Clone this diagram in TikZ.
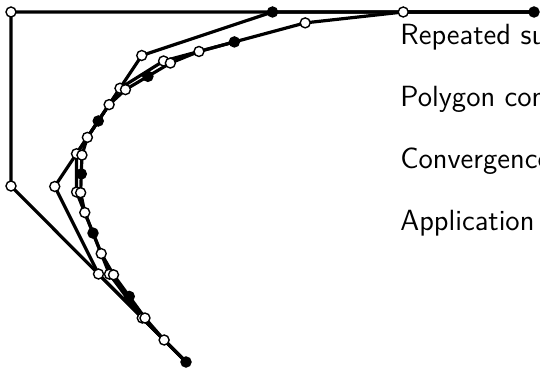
\documentclass[tikz,border=0pt]{standalone}
\usetikzlibrary{calc}
\begin{document}
\begin{tikzpicture}[x=0.5pt,y=-0.5pt,
  poly/.style={line width=1.6pt,line join=round,line cap=round},
  wdot/.style={circle,draw=black,fill=white,line width=0.7pt,inner sep=0pt,minimum size=5pt},
  bdot/.style={circle,draw=black,fill=black,line width=0.7pt,inner sep=0pt,minimum size=5pt},
  lbl/.style={anchor=base west,inner sep=0pt,font=\sffamily\fontsize{14.6}{17}\selectfont}]
\useasboundingbox (0,0) rectangle (540,368);
\clip (0,0) rectangle (540,368);
% control polygon
\coordinate (P0) at (186,362);
\coordinate (P1) at (11,186);
\coordinate (P2) at (11,12);
\coordinate (P3) at (534,12);
% level 1
\coordinate (a) at ($(P0)!.5!(P1)$);
\coordinate (b) at ($(P1)!.5!(P2)$);
\coordinate (c) at ($(P2)!.5!(P3)$);
\coordinate (ab) at ($(a)!.5!(b)$);
\coordinate (bc) at ($(b)!.5!(c)$);
\coordinate (M) at ($(ab)!.5!(bc)$);
% level 2 left
\coordinate (l01) at ($(P0)!.5!(a)$);
\coordinate (l12) at ($(a)!.5!(ab)$);
\coordinate (l23) at ($(ab)!.5!(M)$);
\coordinate (l012) at ($(l01)!.5!(l12)$);
\coordinate (l123) at ($(l12)!.5!(l23)$);
\coordinate (LM) at ($(l012)!.5!(l123)$);
% level 2 right
\coordinate (r01) at ($(M)!.5!(bc)$);
\coordinate (r12) at ($(bc)!.5!(c)$);
\coordinate (r23) at ($(c)!.5!(P3)$);
\coordinate (r012) at ($(r01)!.5!(r12)$);
\coordinate (r123) at ($(r12)!.5!(r23)$);
\coordinate (RM) at ($(r012)!.5!(r123)$);
% level 3, quarter 1
\coordinate (s01) at ($(P0)!.5!(l01)$);
\coordinate (s12) at ($(l01)!.5!(l012)$);
\coordinate (s23) at ($(l012)!.5!(LM)$);
\coordinate (s012) at ($(s01)!.5!(s12)$);
\coordinate (s123) at ($(s12)!.5!(s23)$);
\coordinate (S) at ($(s012)!.5!(s123)$);
% level 3, quarter 2
\coordinate (t01) at ($(LM)!.5!(l123)$);
\coordinate (t12) at ($(l123)!.5!(l23)$);
\coordinate (t23) at ($(l23)!.5!(M)$);
\coordinate (t012) at ($(t01)!.5!(t12)$);
\coordinate (t123) at ($(t12)!.5!(t23)$);
\coordinate (T) at ($(t012)!.5!(t123)$);
% level 3, quarter 3
\coordinate (u01) at ($(M)!.5!(r01)$);
\coordinate (u12) at ($(r01)!.5!(r012)$);
\coordinate (u23) at ($(r012)!.5!(RM)$);
\coordinate (u012) at ($(u01)!.5!(u12)$);
\coordinate (u123) at ($(u12)!.5!(u23)$);
\coordinate (U) at ($(u012)!.5!(u123)$);
% polygons
\draw[poly] (P0) -- (P1) -- (P2) -- (P3);
\draw[poly] (P0) -- (a) -- (ab) -- (M) -- (bc) -- (c) -- (P3);
\draw[poly] (P0) -- (l01) -- (l012) -- (LM) -- (l123) -- (l23) -- (M)
  -- (r01) -- (r012) -- (RM) -- (r123) -- (r23) -- (P3);
\draw[poly] (P0) -- (s01) -- (s012) -- (S) -- (s123) -- (s23) -- (LM)
  -- (t01) -- (t012) -- (T) -- (t123) -- (t23) -- (M)
  -- (u01) -- (u012) -- (U) -- (u123) -- (u23) -- (RM);
% white dots
\foreach \p in {P1,P2,a,ab,bc,l01,l012,l123,l23,r01,r012,r123,r23,
  s01,s012,s123,s23,t01,t012,t123,t23,u01,u012,u123,u23}
  \node[wdot] (w-\p) at (\p) {};
% black dots
\foreach \p in {P0,P3,c,M,LM,RM,S,T,U}
  \node[bdot] (k-\p) at (\p) {};
% labels
\node[lbl] (t1) at (400,45) {Repeated su};
\node[lbl] (t2) at (400,107) {Polygon con};
\node[lbl] (t3) at (400,169) {Convergence};
\node[lbl] (t4) at (400,231) {Application};
\end{tikzpicture}
\end{document}
